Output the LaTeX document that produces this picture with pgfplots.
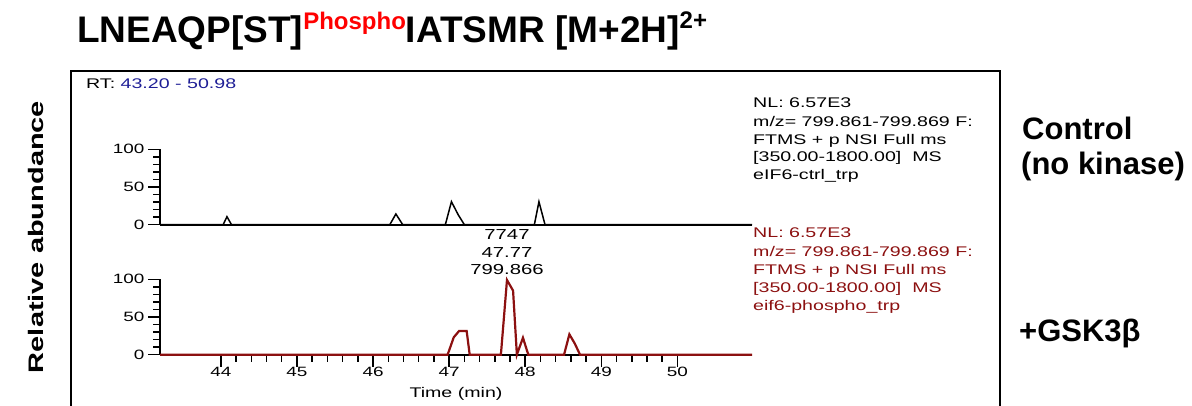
\documentclass[border=0pt]{standalone}
\usepackage{fontspec}
\setmainfont{Liberation Sans}
\newfontfamily\xcal[FakeStretch=1.4]{Liberation Sans}
\newfontfamily\ylab[FakeStretch=1.38]{Liberation Sans}
\usepackage{pgfplots}
\pgfplotsset{compat=1.18}
\definecolor{phred}{RGB}{140,16,16}
\definecolor{rtblue}{RGB}{30,30,150}
\definecolor{titlered}{RGB}{255,0,0}

\pgfplotsset{
  chrom/.style={
    scale only axis, width=592pt, height=75.4pt,
    xmin=43.2, xmax=50.98, ymin=0, ymax=100,
    axis lines=left,
    axis line style={-, line width=2pt},
    ytick={0,50,100}, minor y tick num=4,
    tick align=outside,
    major tick length=12pt, minor tick length=7pt,
    every tick/.style={line width=1.5pt, black},
    /pgf/number format/assume math mode=true,
    tick label style={font=\xcal\fontsize{13.5}{13.5}\selectfont},
    xticklabel style={yshift=3pt},
    clip=false,
  }
}

\begin{document}
\begin{tikzpicture}
\useasboundingbox (0pt,0pt) rectangle (1192pt,-406pt);

% control, no kinase
\begin{axis}[chrom, at={(160pt,-224.7pt)}, anchor=south west, xtick=\empty]
\addplot[black, line width=1.5pt] coordinates {
  (43.20,0) (44.03,0) (44.08,10.6) (44.14,0)
  (46.22,0) (46.30,14.2) (46.39,0)
  (46.95,0) (47.03,30.5) (47.12,13) (47.20,0)
  (48.12,0) (48.18,30.5) (48.26,0) (50.98,0)
};
\end{axis}

% + GSK3beta
\begin{axis}[chrom, at={(160pt,-354.7pt)}, anchor=south west,
  xtick={44,45,46,47,48,49,50}, minor x tick num=4]
\addplot[phred, line width=2.2pt] coordinates {
  (43.20,0) (46.98,0) (47.06,23) (47.13,31.4) (47.23,31.4) (47.27,0)
  (47.68,0) (47.76,99) (47.84,85) (47.89,0)
  (47.97,22.5) (48.04,0)
  (48.51,0) (48.58,27) (48.65,15) (48.72,0) (50.98,0)
};
\end{axis}

\begin{scope}[x=1pt, y=-1pt]
% title
\node[anchor=base west, inner sep=0] at (77,43) {\bfseries
  {\fontsize{37}{37}\selectfont LNEAQP[ST]}%
  \raisebox{13pt}{\fontsize{24}{24}\selectfont\color{titlered}Phospho}%
  {\fontsize{37}{37}\selectfont IATSMR [M+2H]}%
  \raisebox{14pt}{\fontsize{24}{24}\selectfont 2+}};

% frame of the chromatogram window
\draw[line width=2pt] (71,410) -- (71,71) -- (1000,71) -- (1000,410);

\node[anchor=base west, inner sep=0] at (86,89)
  {\xcal\fontsize{14}{14}\selectfont RT: \textcolor{rtblue}{43.20 - 50.98}};

\node[inner sep=0] at (456,394) {\xcal\fontsize{14}{14}\selectfont Time (min)};

% peak annotation
\begin{scope}[every node/.style={anchor=base, inner sep=0, font=\xcal\fontsize{14.5}{14.5}\selectfont}]
\node at (507,240) {7747};
\node at (507,258) {47.77};
\node at (507,275) {799.866};
\end{scope}

% trace headers
\begin{scope}[every node/.style={anchor=base west, inner sep=0, font=\xcal\fontsize{14}{14}\selectfont}]
\node at (753,108) {NL: 6.57E3};
\node at (753,127) {m/z= 799.861-799.869 F:};
\node at (753,145) {FTMS + p NSI Full ms};
\node at (753,162) {[350.00-1800.00]\ \ MS};
\node at (753,180) {eIF6-ctrl\_trp};
\node[text=phred] at (753,238) {NL: 6.57E3};
\node[text=phred] at (753,257) {m/z= 799.861-799.869 F:};
\node[text=phred] at (753,275) {FTMS + p NSI Full ms};
\node[text=phred] at (753,292) {[350.00-1800.00]\ \ MS};
\node[text=phred] at (753,310) {eif6-phospho\_trp};
\end{scope}

% condition labels
\begin{scope}[every node/.style={anchor=base west, inner sep=0, font=\bfseries\fontsize{31}{31}\selectfont}]
\node at (1022,140) {Control};
\node at (1021,175) {(no kinase)};
\node at (1019,341) {+GSK3β};
\end{scope}

\node[rotate=90, inner sep=0, font=\ylab\bfseries\fontsize{21}{21}\selectfont]
  at (36,237) {Relative abundance};
\end{scope}
\end{tikzpicture}
\end{document}
